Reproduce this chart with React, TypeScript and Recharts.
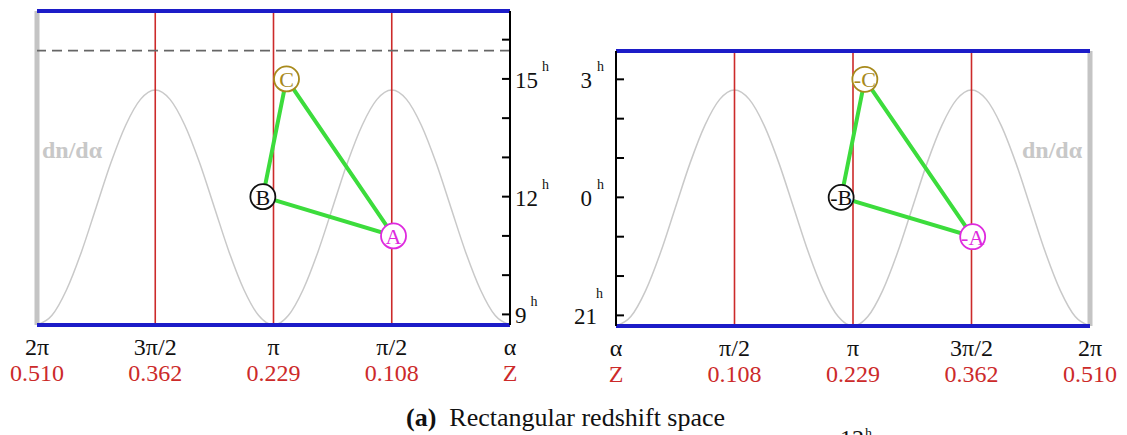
import React from 'react'
import { ComposedChart, Line, Scatter, XAxis, YAxis, ReferenceLine } from 'recharts'

// α measured in units of π/2, so 0 → α=0 and 4 → 2π
const alphaTicks = [0, 1, 2, 3, 4]
const alphaLabels = ['α', 'π/2', 'π', '3π/2', '2π']
const zLabels = ['Z', '0.108', '0.229', '0.362', '0.510']

const curveX = [
  0, 0.125, 0.25, 0.375, 0.5, 0.625, 0.75, 0.875, 1,
  1.125, 1.25, 1.375, 1.5, 1.625, 1.75, 1.875, 2,
  2.125, 2.25, 2.375, 2.5, 2.625, 2.75, 2.875, 3,
  3.125, 3.25, 3.375, 3.5, 3.625, 3.75, 3.875, 4
]
const curveY = [
  0, 0.04, 0.15, 0.31, 0.5, 0.69, 0.85, 0.96, 1,
  0.96, 0.85, 0.69, 0.5, 0.31, 0.15, 0.04, 0,
  0.04, 0.15, 0.31, 0.5, 0.69, 0.85, 0.96, 1,
  0.96, 0.85, 0.69, 0.5, 0.31, 0.15, 0.04, 0
]

// galaxies A, B, C: α (π/2 units) and right ascension in hours
const pointNames = ['A', 'B', 'C']
const leftAlpha = [0.985, 2.09, 1.89]
const leftHours = [11, 12, 15]
const rightAlpha = [3.01, 1.9, 2.1]
const rightHours = [-1, 0, 3]
const triangleOrder = ['C', 'B', 'A', 'C']

const leftHourTicks = [9, 10, 11, 12, 13, 14, 15, 16]
const rightHourTicks = [-3, -2, -1, 0, 1, 2, 3]
const leftDomain = [8.73, 16.73]
const rightDomain = [-3.27, 3.72]
const cutHours = 15.72

const pointColors: Record<string, string> = { A: '#de2ade', B: '#111111', C: '#a88a1c' }

const curveData = curveX.map((x, i) => ({ x, v: curveY[i] }))
const makePoints = (alpha: number[], hours: number[]) =>
  pointNames.map((name, i) => ({ name, x: alpha[i], y: hours[i] }))
const leftPoints = makePoints(leftAlpha, leftHours)
const rightPoints = makePoints(rightAlpha, rightHours)
const triangle = (pts: { name: string; x: number; y: number }[]) =>
  triangleOrder.map((n) => pts.find((p) => p.name === n)!)

const FONT = '"Liberation Serif", "DejaVu Serif", "Noto Serif", serif'
const RED = '#cc2a2a'
const BLUE = '#1c1cc8'

const AlphaTick = (props: any) => {
  const { x, y, payload } = props
  const v = payload.value
  return (
    <g fontFamily={FONT} fontSize={24}>
      <text x={x} y={y + 30} textAnchor="middle" fill="#111">{alphaLabels[v]}</text>
      <text x={x} y={y + 56} textAnchor="middle" fill={RED}>{zLabels[v]}</text>
    </g>
  )
}

const LeftHourTick = (props: any) => {
  const { x, y, payload } = props
  const v = payload.value
  return (
    <g fontFamily={FONT}>
      <line x1={x - 8} x2={x} y1={y} y2={y} stroke="#000" strokeWidth={2} />
      {v % 3 === 0 && (
        <text x={x + 5} y={y + 9} fontSize={23} fill="#111">
          {v}
          <tspan dx={4} dy={-17} fontSize={14}>h</tspan>
        </text>
      )}
    </g>
  )
}

const RightHourTick = (props: any) => {
  const { x, y, payload } = props
  const v = payload.value
  return (
    <g fontFamily={FONT}>
      <line x1={x} x2={x + 8} y1={y} y2={y} stroke="#000" strokeWidth={2} />
      {v === -3 && (
        <>
          <text x={x - 19} y={y + 9} fontSize={23} fill="#111" textAnchor="end">21</text>
          <text x={x - 20} y={y - 17} fontSize={14} fill="#111">h</text>
        </>
      )}
      {v !== -3 && v % 3 === 0 && (
        <text x={x - 12} y={y + 9} fontSize={23} fill="#111" textAnchor="end">
          {v}
          <tspan dx={5} dy={-17} fontSize={14}>h</tspan>
        </text>
      )}
    </g>
  )
}

const pointShape = (prefix: string) => (props: any) => {
  const { cx, cy, payload } = props
  const c = pointColors[payload.name]
  return (
    <g>
      <circle cx={cx} cy={cy} r={12.5} fill="#fff" stroke={c} strokeWidth={1.8} />
      <text x={cx} y={cy + 8} textAnchor="middle" fontSize={22} fontFamily={FONT} fill={c}>
        {prefix + payload.name}
      </text>
    </g>
  )
}

function Panel({ side }: { side: 'left' | 'right' }) {
  const isLeft = side === 'left'
  const domain = isLeft ? leftDomain : rightDomain
  const pts = isLeft ? leftPoints : rightPoints
  const curveMax = isLeft ? 1.336 : 1.165
  return (
    <ComposedChart
      width={isLeft ? 560 : 567}
      height={390}
      margin={isLeft ? { top: 11, right: 0, bottom: 0, left: 37 } : { top: 51, right: 37, bottom: 0, left: 0 }}
    >
      <XAxis
        type="number"
        dataKey="x"
        domain={[0, 4]}
        reversed={isLeft}
        ticks={alphaTicks}
        interval={0}
        tick={<AlphaTick />}
        axisLine={false}
        tickLine={false}
        tickSize={0}
        tickMargin={0}
        height={isLeft ? 65 : 64}
        allowDataOverflow
      />
      <YAxis
        yAxisId="h"
        orientation={isLeft ? 'right' : 'left'}
        type="number"
        domain={domain}
        ticks={isLeft ? leftHourTicks : rightHourTicks}
        interval={0}
        width={isLeft ? 50 : 56}
        axisLine={{ stroke: '#000', strokeWidth: 2 }}
        tickLine={false}
        tickSize={0}
        tickMargin={0}
        tick={isLeft ? <LeftHourTick /> : <RightHourTick />}
        allowDataOverflow
      />
      <YAxis
        yAxisId="curve"
        hide
        orientation={isLeft ? 'left' : 'right'}
        type="number"
        domain={[0, curveMax]}
        allowDataOverflow
      />

      <Line
        yAxisId="curve"
        data={curveData}
        dataKey="v"
        type="monotone"
        stroke="#c9c9c9"
        strokeWidth={1.5}
        dot={false}
        isAnimationActive={false}
      />
      {[1, 2, 3].map((a) => (
        <ReferenceLine key={a} yAxisId="h" x={a} stroke={RED} strokeWidth={1.6} />
      ))}
      <ReferenceLine yAxisId="h" x={4} stroke="#c4c4c4" strokeWidth={5} />
      {isLeft && (
        <ReferenceLine yAxisId="h" y={cutHours} stroke="#666" strokeWidth={1.6} strokeDasharray="10 6" />
      )}
      <ReferenceLine yAxisId="h" y={domain[0]} stroke={BLUE} strokeWidth={4} />
      <ReferenceLine yAxisId="h" y={domain[1]} stroke={BLUE} strokeWidth={4} />

      <Line
        yAxisId="h"
        data={triangle(pts)}
        dataKey="y"
        type="linear"
        stroke="#3cdc3c"
        strokeWidth={4}
        dot={false}
        isAnimationActive={false}
      />
      <Scatter
        yAxisId="h"
        data={pts}
        dataKey="y"
        shape={pointShape(isLeft ? '' : '-')}
        isAnimationActive={false}
      />
    </ComposedChart>
  )
}

export default function App() {
  const dnStyle: React.CSSProperties = {
    position: 'absolute',
    fontFamily: FONT,
    fontWeight: 'bold',
    fontSize: 24,
    lineHeight: 1,
    color: '#c8c8c8',
    whiteSpace: 'nowrap',
  }
  const abs = (left: number, top: number, fontSize: number): React.CSSProperties => ({
    position: 'absolute',
    left,
    top,
    fontSize,
    lineHeight: 1,
    color: '#111',
    whiteSpace: 'nowrap',
  })
  return (
    <div
      style={{
        position: 'absolute',
        left: 0,
        top: 0,
        width: 1127,
        height: 435,
        background: '#fff',
        overflow: 'hidden',
        fontFamily: FONT,
      }}
    >
      <div style={{ position: 'absolute', left: 0, top: 0 }}>
        <Panel side="left" />
      </div>
      <div style={{ position: 'absolute', left: 560, top: 0 }}>
        <Panel side="right" />
      </div>
      <div style={{ ...dnStyle, left: 42, top: 138 }}>dn/dα</div>
      <div style={{ ...dnStyle, left: 1022, top: 138 }}>dn/dα</div>
      <div style={abs(406, 405, 26)}>
        <b>(a)</b>&nbsp; Rectangular redshift space
      </div>
      <div style={abs(840, 426, 24)}>12</div>
      <div style={abs(865, 427, 14)}>h</div>
    </div>
  )
}
